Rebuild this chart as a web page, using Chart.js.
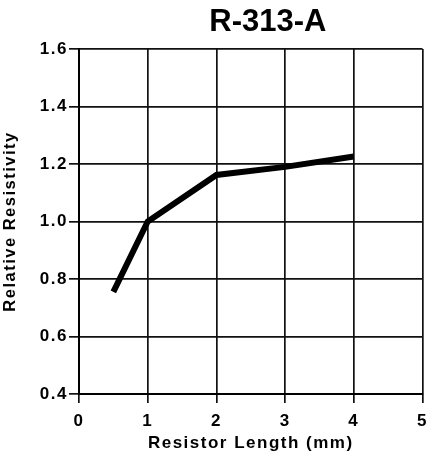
<!DOCTYPE html>
<html lang="en">
<head>
    <meta charset="UTF-8">
    <title>R-313-A</title>
    <script src="https://cdn.jsdelivr.net/npm/chart.js@4.4.0/dist/chart.umd.min.js"></script>
    <style>
        html, body { margin: 0; padding: 0; background: #fff; }
        #wrap { width: 436px; height: 458px; }
    </style>
</head>
<body>
    <div id="wrap"><canvas id="chart" width="436" height="458"></canvas></div>
    <script>
        // data
        const lengths = [0.5, 1, 2, 3, 4];
        const resistivity = [0.755, 1.0, 1.162, 1.19, 1.226];
        const xTicks = [0, 1, 2, 3, 4, 5];
        const yTicks = [0.4, 0.6, 0.8, 1.0, 1.2, 1.4, 1.6];
        const chartTitle = 'R-313-A';

        const fontFamily = "'Liberation Sans', Arial, sans-serif";

        // the axis text in the original is spaced out a little
        const spacing = {
            id: 'spacing',
            beforeLayout(chart) { chart.ctx.letterSpacing = '1.5px'; },
            beforeDraw(chart) { chart.ctx.letterSpacing = '1.5px'; }
        };

        // title is centred a bit right of the plot in the original
        const titlePlugin = {
            id: 'offsetTitle',
            afterDraw(chart) {
                const ctx = chart.ctx;
                const area = chart.chartArea;
                ctx.save();
                ctx.letterSpacing = '0px';
                ctx.font = 'bold 31px ' + fontFamily;
                ctx.fillStyle = '#000';
                ctx.textAlign = 'center';
                ctx.textBaseline = 'alphabetic';
                ctx.fillText(chartTitle, area.left + (area.right - area.left) * 0.55, 31);
                ctx.restore();
            }
        };

        new Chart(document.getElementById('chart'), {
            type: 'scatter',
            data: {
                datasets: [{
                    data: lengths.map((x, i) => ({ x: x, y: resistivity[i] })),
                    showLine: true,
                    borderColor: '#000',
                    borderWidth: 6,
                    pointRadius: 0,
                    tension: 0,
                    borderCapStyle: 'butt',
                    borderJoinStyle: 'miter'
                }]
            },
            options: {
                responsive: false,
                animation: false,
                layout: { padding: { top: 49, right: 12, left: 0, bottom: 0 } },
                plugins: {
                    legend: { display: false },
                    tooltip: { enabled: false }
                },
                scales: {
                    x: {
                        type: 'linear',
                        min: 0,
                        max: 5,
                        afterBuildTicks: s => { s.ticks = xTicks.map(v => ({ value: v })); },
                        afterFit: s => { s.height = 64; },
                        grid: { color: '#111', lineWidth: 1.7, tickLength: 9, tickColor: '#111', tickWidth: 1.7 },
                        border: { color: '#000', width: 2 },
                        ticks: {
                            color: '#000',
                            padding: 8,
                            maxRotation: 0,
                            font: { family: fontFamily, size: 17, weight: 'bold' }
                        },
                        title: {
                            display: true,
                            text: 'Resistor Length (mm)',
                            color: '#000',
                            padding: { top: 0, bottom: 4 },
                            font: { family: fontFamily, size: 17, weight: 'bold' }
                        }
                    },
                    y: {
                        min: 0.4,
                        max: 1.6,
                        afterBuildTicks: s => { s.ticks = yTicks.map(v => ({ value: v })); },
                        afterFit: s => { s.width = 79; },
                        grid: { color: '#111', lineWidth: 1.7, tickLength: 10, tickColor: '#111', tickWidth: 1.7 },
                        border: { color: '#000', width: 2 },
                        ticks: {
                            color: '#000',
                            padding: 1,
                            font: { family: fontFamily, size: 17, weight: 'bold' },
                            callback: v => v.toFixed(1)
                        },
                        title: {
                            display: true,
                            text: 'Relative Resistivity',
                            color: '#000',
                            padding: { top: 1, bottom: 0 },
                            font: { family: fontFamily, size: 16.5, weight: 'bold' }
                        }
                    }
                }
            },
            plugins: [spacing, titlePlugin]
        });
    </script>
</body>
</html>
